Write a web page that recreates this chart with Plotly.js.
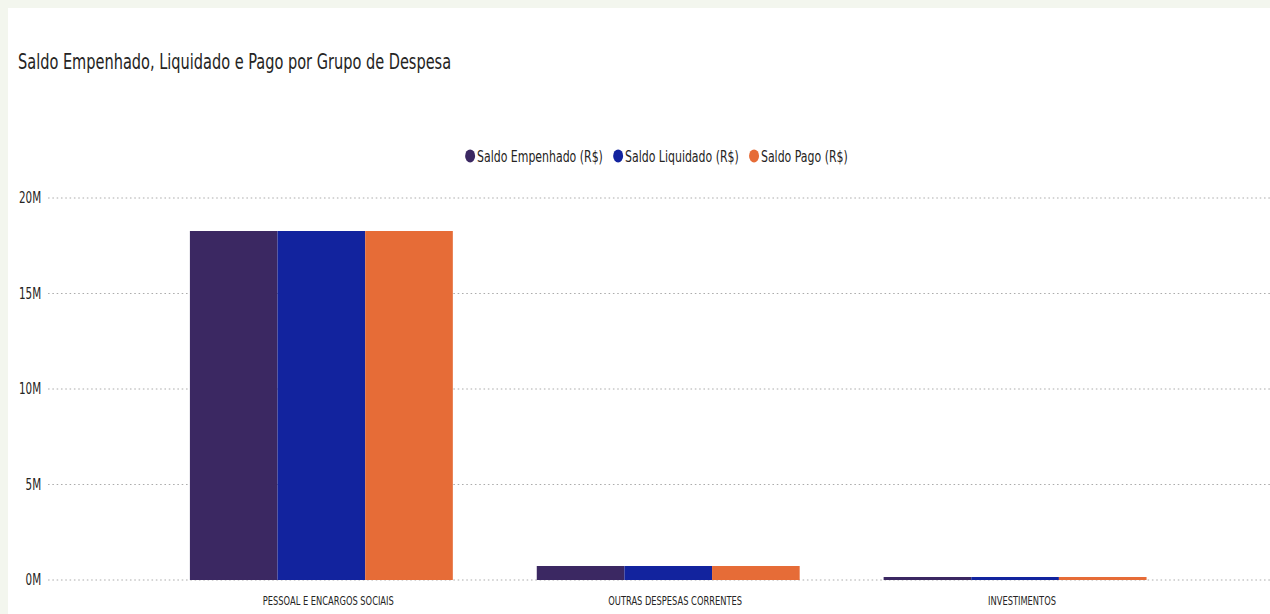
<!DOCTYPE html>
<html>
<head>
<meta charset="utf-8">
<script src="https://cdn.plot.ly/plotly-3.0.1.min.js"></script>
<style>
html,body{margin:0;padding:0;background:#f3f6ee;width:1270px;height:614px;overflow:hidden;}
#wrap{position:absolute;left:8px;top:8px;width:1262px;height:606px;background:#fff;overflow:hidden;}
#chart{position:absolute;left:0;top:0;width:1639px;height:606px;transform:scaleX(0.77);transform-origin:0 0;}
</style>
</head>
<body>
<div id="wrap"><div id="chart"></div></div>
<script>
const categories = ["PESSOAL E ENCARGOS SOCIAIS", "OUTRAS DESPESAS CORRENTES", "INVESTIMENTOS"];
const seriesNames = ["Saldo Empenhado (R$)", "Saldo Liquidado (R$)", "Saldo Pago (R$)"];
const empenhado = [18270000, 730000, 160000];
const liquidado = [18270000, 730000, 160000];
const pago = [18270000, 730000, 160000];
const yTickVals = [0, 5000000, 10000000, 15000000, 20000000];
const yTickText = ["0M", "5M", "10M", "15M", "20M"];

const S = 0.77;          // horizontal squeeze of the whole picture
const W = 1639;          // unsqueezed width
const colors = ["#3b2862", "#12239e", "#e66c37"];
const fontFam = "'Liberation Sans Narrow', 'DejaVu Sans Condensed', 'Open Sans', sans-serif";

const values = [empenhado, liquidado, pago];
const traces = values.map((v, i) => ({
  type: 'bar',
  name: seriesNames[i],
  x: categories,
  y: v,
  marker: {color: colors[i], line: {width: 0}},
  showlegend: false,
  hoverinfo: 'x+y+name'
}));
// legend entries with round markers
seriesNames.forEach((n, i) => traces.push({
  type: 'scatter', mode: 'markers', name: n,
  x: [null], y: [null],
  marker: {color: colors[i], size: 13, symbol: 'circle'},
  hoverinfo: 'skip'
}));

const layout = {
  width: W, height: 606,
  paper_bgcolor: '#ffffff', plot_bgcolor: '#ffffff',
  margin: {l: 52, r: 0, t: 187, b: 31, pad: 0},
  barmode: 'group', bargap: 0.242, bargroupgap: 0,
  font: {family: fontFam, color: '#252423'},
  title: {
    text: 'Saldo Empenhado, Liquidado e Pago por Grupo de Despesa',
    xref: 'container', yref: 'container',
    x: 13/W, xanchor: 'left', y: 1 - 54/606, yanchor: 'middle',
    font: {family: fontFam, size: 21, color: '#252423'}
  },
  showlegend: true,
  legend: {
    orientation: 'h', xref: 'paper', yref: 'paper',
    x: 0.5, xanchor: 'center', y: 1.1, yanchor: 'middle',
    font: {family: fontFam, size: 15.8, color: '#252423'},
    itemwidth: 30, itemclick: false, traceorder: 'normal'
  },
  xaxis: {
    type: 'category',
    range: [-0.788, 2.735],
    showgrid: false, zeroline: false, showline: false,
    ticks: '', tickfont: {family: fontFam, size: 12, color: '#252423'},
    ticklabelstandoff: 9, ticklabelshift: 9
  },
  yaxis: {
    range: [-157000, 20157000],
    tickvals: yTickVals, ticktext: yTickText,
    showgrid: true, gridcolor: '#a0a0a0', griddash: '2px,3.6px', gridwidth: 1.3,
    zeroline: false, showline: false, ticks: '',
    tickfont: {family: fontFam, size: 15, color: '#252423'},
    ticklabelstandoff: 8
  }
};

Plotly.newPlot('chart', traces, layout, {displayModeBar: false}).then(() => {
  // tighten legend entries: small gap between marker and label, as in the reference
  const gs = Array.from(document.querySelectorAll('#chart g.legend g.traces'));
  const lens = gs.map(g => {
    const t = g.querySelector('text.legendtext');
    t.setAttribute('x', 29);
    return t.getComputedTextLength();
  });
  const r = 6, textOff = 9, gap = 7.8;
  let total = 0;
  lens.forEach((L, i) => { total += (i === 0 ? r : 0) + textOff + L + (i < lens.length - 1 ? gap + r : 0); });
  const centre = (652 - 8) / S;
  let cx = centre - total / 2 + r;
  gs.forEach((g, i) => {
    const pt = g.querySelector('.legendpoints path');
    const b = pt.getBoundingClientRect();
    const cur = ((b.left + b.right) / 2 - 8) / S;
    const m = /translate\(\s*([-\d.e]+)[ ,]+([-\d.e]+)\s*\)/.exec(g.getAttribute('transform') || 'translate(0,0)');
    const tx = parseFloat(m[1]), ty = parseFloat(m[2]);
    g.setAttribute('transform', 'translate(' + (tx + cx - cur) + ',' + ty + ')');
    cx += textOff + lens[i] + gap + 2 * r;
  });
});
</script>
</body>
</html>
